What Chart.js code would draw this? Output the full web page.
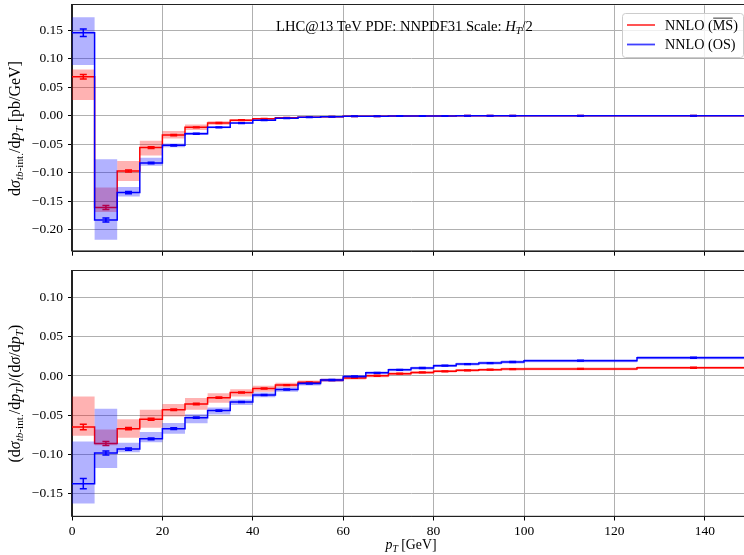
<!DOCTYPE html>
<html>
<head>
<meta charset="utf-8">
<script src="https://cdn.jsdelivr.net/npm/chart.js@4.4.0/dist/chart.umd.min.js"></script>
<style>
  html, body { margin: 0; padding: 0; background: #fff; overflow: hidden; }
  #wrap { position: relative; width: 744px; height: 555px; overflow: hidden; }
  canvas { position: absolute; left: 0; }
  #top { top: 0; }
  #bottom { top: 262px; }
</style>
</head>
<body>
<div id="wrap">
  <canvas id="top" width="750" height="262"></canvas>
  <canvas id="bottom" width="750" height="293"></canvas>
</div>
<script>
// pT bin edges [GeV]
var edges = [0, 5, 10, 15, 20, 25, 30, 35, 40, 45, 50, 55, 60, 65, 70, 75, 80, 85, 90, 95, 100, 125, 150];

// upper panel: dsigma_int / dpT [pb/GeV]
var dsigMsbar    = [0.0685, -0.161, -0.097, -0.056, -0.034, -0.0204, -0.0128, -0.0078, -0.0055, -0.0036, -0.0025, -0.0016, -0.0011, -0.0008, -0.0006, -0.0004, -0.0003, -0.0002, -0.00015, -0.0001, -0.00006, -0.00002];
var dsigMsbarLo  = [0.0276, -0.169, -0.1146, -0.070, -0.040, -0.025, -0.016, -0.0102, -0.0070, -0.0047, -0.0033, -0.0022, -0.0016, -0.0012, -0.0009, -0.0007, -0.0005, -0.0004, -0.0003, -0.0002, -0.00015, -0.00008];
var dsigMsbarHi  = [0.081, -0.126, -0.0795, -0.044, -0.027, -0.0155, -0.0095, -0.0058, -0.0040, -0.0026, -0.0018, -0.0011, -0.0007, -0.0005, -0.0003, -0.0002, -0.00015, -0.0001, -0.00005, -0.00003, -0.00002, 0.00001];
var dsigMsbarErr = [0.004, 0.0035, 0.0018, 0.0014, 0.0012, 0.0008, 0.0007, 0.0006, 0.0005, 0.0004, 0.0004, 0.0004, 0.0004, 0.0004, 0.0004, 0.0004, 0.0004, 0.0004, 0.0004, 0.0004, 0.0004, 0.0004];

var dsigOs    = [0.1457, -0.183, -0.135, -0.083, -0.052, -0.0316, -0.0204, -0.013, -0.008, -0.0046, -0.0028, -0.0017, -0.0011, -0.0008, -0.0006, -0.0004, -0.0003, -0.0002, -0.00015, -0.0001, -0.00005, -0.00002];
var dsigOsLo  = [0.089, -0.218, -0.142, -0.088, -0.0555, -0.034, -0.022, -0.0142, -0.0088, -0.0052, -0.0032, -0.0020, -0.0013, -0.0010, -0.0008, -0.0005, -0.0004, -0.0003, -0.0002, -0.00015, -0.0001, -0.00004];
var dsigOsHi  = [0.173, -0.0765, -0.125, -0.074, -0.049, -0.029, -0.019, -0.0118, -0.0072, -0.0040, -0.0024, -0.0014, -0.0009, -0.0006, -0.0004, -0.0003, -0.0002, -0.00012, -0.0001, -0.00005, -0.00002, 0];
var dsigOsErr = [0.0065, 0.0035, 0.002, 0.0015, 0.0012, 0.0008, 0.0007, 0.0006, 0.0005, 0.0004, 0.0004, 0.0004, 0.0004, 0.0004, 0.0004, 0.0004, 0.0004, 0.0004, 0.0004, 0.0004, 0.0004, 0.0004];

// lower panel: ratio to the full dsigma/dpT
var ratioMsbar    = [-0.065, -0.086, -0.067, -0.055, -0.043, -0.0356, -0.0276, -0.021, -0.016, -0.0115, -0.008, -0.0052, -0.0025, 0.0003, 0.003, 0.0045, 0.006, 0.0072, 0.008, 0.0088, 0.009, 0.0105];
var ratioMsbarLo  = [-0.076, -0.088, -0.0785, -0.066, -0.0517, -0.0428, -0.034, -0.026, -0.020, -0.0145, -0.0105, -0.0072, -0.0045, -0.0015, 0.001, 0.0027, 0.0043, 0.0055, 0.0063, 0.0071, 0.0073, 0.0088];
var ratioMsbarHi  = [-0.026, -0.068, -0.055, -0.043, -0.0356, -0.028, -0.022, -0.017, -0.0125, -0.0085, -0.0058, -0.0034, -0.0008, 0.002, 0.0048, 0.0062, 0.0077, 0.0089, 0.0097, 0.0105, 0.0107, 0.0122];
var ratioMsbarErr = [0.0035, 0.0025, 0.0015, 0.0012, 0.001, 0.0009, 0.0008, 0.0007, 0.0006, 0.0005, 0.0005, 0.0005, 0.0005, 0.0005, 0.0005, 0.0005, 0.0005, 0.0005, 0.0005, 0.0005, 0.0005, 0.0005];

var ratioOs    = [-0.137, -0.098, -0.093, -0.080, -0.067, -0.053, -0.044, -0.033, -0.0242, -0.0172, -0.0097, -0.0051, -0.0005, 0.004, 0.0078, 0.0102, 0.0131, 0.0152, 0.0165, 0.0178, 0.0195, 0.0232];
var ratioOsLo  = [-0.1624, -0.117, -0.097, -0.0844, -0.0734, -0.0602, -0.049, -0.037, -0.027, -0.020, -0.012, -0.0072, -0.0023, 0.0022, 0.006, 0.0084, 0.0113, 0.0134, 0.0147, 0.016, 0.0176, 0.0212];
var ratioOsHi  = [-0.0835, -0.0416, -0.085, -0.0712, -0.0598, -0.0488, -0.040, -0.030, -0.021, -0.0145, -0.0075, -0.0032, 0.0013, 0.0058, 0.0095, 0.0119, 0.0148, 0.0169, 0.0183, 0.0196, 0.0214, 0.0252];
var ratioOsErr = [0.0066, 0.0025, 0.0015, 0.0012, 0.001, 0.0009, 0.0008, 0.0007, 0.0006, 0.0005, 0.0005, 0.0005, 0.0005, 0.0005, 0.0005, 0.0005, 0.0005, 0.0005, 0.0005, 0.0005, 0.0005, 0.0005];

var SERIF = '"Liberation Serif", "DejaVu Serif", serif';
var RED = '#ff0000', BLUE = '#0000ff';

function font(size, italic) {
    return (italic ? 'italic ' : '') + size + 'px ' + SERIF;
}

// one point per left bin edge plus the closing edge, drawn as a step
function steps(vals) {
    var pts = vals.map(function (v, i) { return { x: edges[i], y: v }; });
    pts.push({ x: edges[edges.length - 1], y: vals[vals.length - 1] });
    return pts;
}

// parts: {t: text, i: italic, s: subscript, o: overline}
function richWidth(ctx, parts, size) {
    var w = 0;
    parts.forEach(function (p) {
        ctx.font = font(p.s ? size * 0.7 : size, p.i);
        p.w = ctx.measureText(p.t).width;
        w += p.w;
    });
    return w;
}

function drawRich(ctx, parts, x, y, size) {
    richWidth(ctx, parts, size);
    parts.forEach(function (p) {
        var sz = p.s ? size * 0.7 : size;
        ctx.font = font(sz, p.i);
        ctx.fillText(p.t, x, p.s ? y + size * 0.22 : y);
        if (p.o) {
            ctx.save();
            ctx.lineWidth = 0.8;
            ctx.strokeStyle = ctx.fillStyle;
            ctx.beginPath();
            ctx.moveTo(x + 0.5, y - size * 0.8);
            ctx.lineTo(x + p.w - 0.5, y - size * 0.8);
            ctx.stroke();
            ctx.restore();
        }
        x += p.w;
    });
}

function makeDatasets(c, cLo, cHi, cErr, o, oLo, oHi, oErr) {
    var band = { borderColor: 'transparent', borderWidth: 0, pointRadius: 0, stepped: true };
    var line = { borderWidth: 1.5, pointRadius: 0, stepped: true, fill: false };
    return [
        Object.assign({ data: steps(cLo), fill: false, order: 10 }, band),
        Object.assign({ data: steps(cHi), fill: { target: 0 }, backgroundColor: 'rgba(255,0,0,0.3)', order: 9 }, band),
        Object.assign({ data: steps(c), borderColor: RED, values: c, errors: cErr, order: 8 }, line),
        Object.assign({ data: steps(oLo), fill: false, order: 7 }, band),
        Object.assign({ data: steps(oHi), fill: { target: 3 }, backgroundColor: 'rgba(0,0,255,0.3)', order: 6 }, band),
        Object.assign({ data: steps(o), borderColor: BLUE, values: o, errors: oErr, order: 5 }, line)
    ];
}

var errorBars = {
    id: 'errorBars',
    afterDatasetDraw: function (chart, args) {
        var ds = chart.data.datasets[args.index];
        if (!ds.errors) return;
        var ctx = chart.ctx, xs = chart.scales.x, ys = chart.scales.y;
        ctx.save();
        ctx.strokeStyle = ds.borderColor;
        ctx.lineWidth = 1.5;
        for (var i = 0; i < ds.errors.length; i++) {
            var cx = xs.getPixelForValue((edges[i] + edges[i + 1]) / 2);
            var y1 = ys.getPixelForValue(ds.values[i] - ds.errors[i]);
            var y2 = ys.getPixelForValue(ds.values[i] + ds.errors[i]);
            ctx.beginPath();
            ctx.moveTo(cx, y1); ctx.lineTo(cx, y2);
            ctx.moveTo(cx - 3.5, y1); ctx.lineTo(cx + 3.5, y1);
            ctx.moveTo(cx - 3.5, y2); ctx.lineTo(cx + 3.5, y2);
            ctx.stroke();
        }
        ctx.restore();
    }
};

var frame = {
    id: 'frame',
    afterDatasetsDraw: function (chart) {
        var a = chart.chartArea, ctx = chart.ctx;
        ctx.save();
        ctx.strokeStyle = '#222';
        ctx.lineWidth = 1;
        ctx.strokeRect(Math.round(a.left) - 0.5, Math.round(a.top) - 0.5, a.right - a.left, a.bottom - a.top);
        ctx.restore();
    }
};

var TITLE_SIZE = 16;

function yTitle(parts) {
    return {
        id: 'yTitle',
        afterDraw: function (chart) {
            var a = chart.chartArea, ctx = chart.ctx;
            ctx.save();
            ctx.fillStyle = '#000';
            ctx.translate(15, (a.top + a.bottom) / 2);
            ctx.rotate(-Math.PI / 2);
            var w = richWidth(ctx, parts, TITLE_SIZE);
            drawRich(ctx, parts, -w / 2, 4.5, TITLE_SIZE);
            ctx.restore();
        }
    };
}

var topLabels = {
    id: 'topLabels',
    afterDraw: function (chart) {
        var ctx = chart.ctx;
        ctx.save();
        ctx.fillStyle = '#000';
        drawRich(ctx, [
            { t: 'LHC@13 TeV PDF: NNPDF31 Scale: ' }, { t: 'H', i: true }, { t: 'T', i: true, s: true }, { t: '/2' }
        ], 276, 31, 14.6);

        // legend box
        ctx.beginPath();
        ctx.roundRect(622.5, 13.5, 121, 44, 3);
        ctx.fillStyle = 'rgba(255,255,255,0.8)';
        ctx.fill();
        ctx.strokeStyle = '#cccccc';
        ctx.lineWidth = 1;
        ctx.stroke();

        [[RED, 25, [{ t: 'NNLO (' }, { t: 'MS', o: true }, { t: ')' }]],
         [BLUE, 44.5, [{ t: 'NNLO (OS)' }]]].forEach(function (e) {
            ctx.strokeStyle = e[0];
            ctx.globalAlpha = 0.75;
            ctx.lineWidth = 1.8;
            ctx.beginPath();
            ctx.moveTo(627, e[1]); ctx.lineTo(655, e[1]);
            ctx.stroke();
            ctx.globalAlpha = 1;
            ctx.fillStyle = '#000';
            drawRich(ctx, e[2], 665, e[1] + 4.5, 14.2);
        });
        ctx.restore();
    }
};

var xTitle = {
    id: 'xTitle',
    afterDraw: function (chart) {
        var a = chart.chartArea, ctx = chart.ctx;
        var parts = [{ t: 'p', i: true }, { t: 'T', i: true, s: true }, { t: ' [GeV]' }];
        ctx.save();
        ctx.fillStyle = '#000';
        var w = richWidth(ctx, parts, 13.8);
        drawRich(ctx, parts, (a.left + a.right) / 2 - w / 2, 287, 13.8);
        ctx.restore();
    }
};

function fmt(v) {
    if (Math.abs(v) < 1e-9) return '0.00';
    return (v < 0 ? '\u2212' : '') + Math.abs(v).toFixed(2);
}

function panelOptions(ymin, ymax, xHeight, padTop, showX) {
    var grid = { color: '#b0b0b0', lineWidth: 1, tickColor: '#000', tickLength: 4, tickWidth: 1 };
    return {
        responsive: false,
        animation: false,
        events: [],
        layout: { padding: { top: padTop, left: 0, right: 0, bottom: 0 }, autoPadding: false },
        plugins: {
            legend: { display: false },
            tooltip: { enabled: false },
            filler: { drawTime: 'beforeDatasetDraw' }
        },
        scales: {
            x: {
                type: 'linear', min: 0, max: 150,
                grid: grid,
                border: { color: '#222' },
                ticks: {
                    display: showX, stepSize: 20, includeBounds: false, padding: 3,
                    color: '#000', font: { family: SERIF, size: 13.5 }, maxRotation: 0
                },
                afterFit: function (s) { s.height = xHeight; s.paddingLeft = 0; s.paddingRight = 0; }
            },
            y: {
                min: ymin, max: ymax,
                grid: grid,
                border: { color: '#222' },
                ticks: {
                    stepSize: 0.05, includeBounds: false, padding: 5,
                    color: '#000', font: { family: SERIF, size: 13.5 },
                    callback: fmt
                },
                afterFit: function (s) { s.width = 72; s.paddingTop = 0; s.paddingBottom = 0; }
            }
        }
    };
}

new Chart(document.getElementById('top'), {
    type: 'line',
    data: { datasets: makeDatasets(dsigMsbar, dsigMsbarLo, dsigMsbarHi, dsigMsbarErr, dsigOs, dsigOsLo, dsigOsHi, dsigOsErr) },
    options: panelOptions(-0.2388, 0.1939, 10.3, 5.3, false),
    plugins: [errorBars, frame, topLabels,
        yTitle([{ t: 'd' }, { t: 'σ', i: true }, { t: 'tb', i: true, s: true }, { t: '-int.', s: true },
                { t: '/d' }, { t: 'p', i: true }, { t: 'T', i: true, s: true }, { t: ' [pb/GeV]' }])]
});

new Chart(document.getElementById('bottom'), {
    type: 'line',
    data: { datasets: makeDatasets(ratioMsbar, ratioMsbarLo, ratioMsbarHi, ratioMsbarErr, ratioOs, ratioOsLo, ratioOsHi, ratioOsErr) },
    options: panelOptions(-0.1788, 0.134, 38.5, 8.7, true),
    plugins: [errorBars, frame, xTitle,
        yTitle([{ t: '(d' }, { t: 'σ', i: true }, { t: 'tb', i: true, s: true }, { t: '-int.', s: true },
                { t: '/d' }, { t: 'p', i: true }, { t: 'T', i: true, s: true }, { t: ')/(d' }, { t: 'σ', i: true },
                { t: '/d' }, { t: 'p', i: true }, { t: 'T', i: true, s: true }, { t: ')' }])]
});
</script>
</body>
</html>
